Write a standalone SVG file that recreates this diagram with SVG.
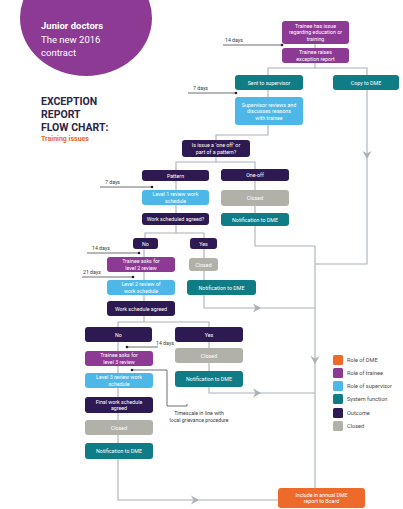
<svg xmlns="http://www.w3.org/2000/svg" width="403" height="509" viewBox="0 0 403 509">
<style>
.bx{stroke:none}
.pu{fill:#8C3A94}.dk{fill:#2D1A52}.te{fill:#0F7C86}.lb{fill:#4DB8E8}.gr{fill:#B1B0A9}.or{fill:#EE6A2B}
.t{font-family:Roboto,'Liberation Sans',sans-serif;font-size:5.3px;fill:#fff;text-anchor:middle}
.c{fill:none;stroke:#A9B1B7;stroke-width:1.1}
.tl{fill:none;stroke:#4a4a4a;stroke-width:0.8}
.lbl{font-family:Roboto,'Liberation Sans',sans-serif;font-size:5.2px;fill:#3a3a3a}
.lg{font-family:Roboto,'Liberation Sans',sans-serif;font-size:5.6px;fill:#4a4a4a}
.ar{fill:#A9B1B7}
</style>
<defs>
<path id="arr" d="M4,0 L-4,-4.5 L-1.5,0 L-4,4.5 Z"/>
</defs>
<rect width="403" height="509" fill="#fff"/>
<ellipse cx="86" cy="18" rx="66" ry="58" fill="#8C3A94"/>
<g font-family="Roboto,'Liberation Sans',sans-serif" font-size="9.5" fill="#fff">
<text x="41" y="29" font-weight="bold">Junior doctors</text>
<text x="41" y="43">The new 2016</text>
<text x="41" y="56">contract</text>
</g>
<g font-family="Roboto,'Liberation Sans',sans-serif" font-size="10.5" font-weight="bold" fill="#2B2546">
<text x="41" y="105">EXCEPTION</text>
<text x="41" y="118">REPORT</text>
<text x="41" y="131">FLOW CHART:</text>
</g>
<text x="41" y="141" font-family="Roboto,'Liberation Sans',sans-serif" font-size="7" font-weight="bold" fill="#E8672A">Training issues</text>

<g id="connectors">
<path class="c" d="M315,43V48"/>
<path class="c" d="M315,63V68M268,75V68H367V75"/>
<path class="c" d="M268,90V97"/>
<path class="c" d="M367,90V264H315"/>
<path class="c" d="M268,125V135H216V140"/>
<path class="c" d="M216,157V162M176,170V162H255V169"/>
<path class="c" d="M176,181V213"/>
<path class="c" d="M255,181V213"/>
<path class="c" d="M255,226V246H315V488"/>
<path class="c" d="M176,225V233M145,238V233H204V238"/>
<path class="c" d="M144,249V316"/>
<path class="c" d="M204,249V308H315"/>
<path class="c" d="M144,316V322M118,327V322H209V327"/>
<path class="c" d="M118,342V500H278"/>
<path class="c" d="M209,342V393H315"/>
<use href="#arr" class="ar" transform="translate(367,155) rotate(90)"/>
<use href="#arr" class="ar" transform="translate(315,360) rotate(90)"/>
<use href="#arr" class="ar" transform="translate(257,308)"/>
<use href="#arr" class="ar" transform="translate(257,393)"/>
<use href="#arr" class="ar" transform="translate(195,500)"/>
</g>

<g id="timings">
<path class="tl" d="M223,45H282"/><circle cx="282" cy="45" r="1.3" fill="#222"/>
<text class="lbl" x="225" y="42">14 days</text>
<path class="tl" d="M188,93H236"/><circle cx="236" cy="93" r="1.3" fill="#222"/>
<text class="lbl" x="193" y="90">7 days</text>
<path class="tl" d="M100,187H152"/><circle cx="152" cy="187" r="1.3" fill="#222"/>
<text class="lbl" x="105" y="184">7 days</text>
<path class="tl" d="M87,253H139"/><circle cx="139" cy="253" r="1.3" fill="#222"/>
<text class="lbl" x="92" y="250">14 days</text>
<path class="tl" d="M82,277H133"/><circle cx="133" cy="277" r="1.3" fill="#222"/>
<text class="lbl" x="83" y="274">21 days</text>
<path class="tl" d="M127,347H158"/><circle cx="127" cy="347" r="1.3" fill="#222"/>
<text class="lbl" x="156" y="345">14 days</text>
<path class="tl" d="M132,370H167V406H187V404"/><circle cx="132" cy="370" r="1.3" fill="#222"/>
<text class="lbl" x="199" y="415" text-anchor="middle">Timescale in line with</text>
<text class="lbl" x="199" y="422" text-anchor="middle">local grievance procedure</text>
</g>

<g id="n1"><rect class="bx pu" x="282" y="21" width="67" height="23" rx="3"/><text class="t" x="315.5" y="27.8">Trainee has issue</text><text class="t" x="315.5" y="34.3">regarding education or</text><text class="t" x="315.5" y="40.8">training</text></g>
<g id="n2"><rect class="bx pu" x="282" y="48" width="67" height="15" rx="3"/><text class="t" x="315.5" y="54.3">Trainee raises</text><text class="t" x="315.5" y="60.8">exception report</text></g>
<g id="n3"><rect class="bx te" x="235" y="75" width="68" height="15" rx="3"/><text class="t" x="269" y="84.5">Sent to supervisor</text></g>
<g id="n4"><rect class="bx te" x="333" y="75" width="66" height="15" rx="3"/><text class="t" x="366" y="84.5">Copy to DME</text></g>
<g id="n5"><rect class="bx lb" x="235" y="97" width="68" height="28" rx="3"/><text class="t" x="269" y="106.5">Supervisor reviews and</text><text class="t" x="269" y="113">discusses reasons</text><text class="t" x="269" y="119.5">with trainee</text></g>
<g id="n6"><rect class="bx dk" x="182" y="140" width="68" height="17" rx="3"/><text class="t" x="216" y="147.3">Is issue a ‘one off’ or</text><text class="t" x="216" y="153.8">part of a pattern?</text></g>
<g id="n7"><rect class="bx dk" x="142" y="170" width="67" height="11" rx="3"/><text class="t" x="175.5" y="177.5">Pattern</text></g>
<g id="n8"><rect class="bx dk" x="221" y="169" width="68" height="12" rx="3"/><text class="t" x="255" y="177">One-off</text></g>
<g id="n9"><rect class="bx gr" x="221" y="190" width="68" height="16" rx="3"/><text class="t" x="255" y="200">Closed</text></g>
<g id="n10"><rect class="bx te" x="221" y="213" width="68" height="13" rx="3"/><text class="t" x="255" y="221.5">Notification to DME</text></g>
<g id="n11"><rect class="bx lb" x="142" y="190" width="67" height="15" rx="3"/><text class="t" x="175.5" y="196.3">Level 1 review work</text><text class="t" x="175.5" y="202.8">schedule</text></g>
<g id="n12"><rect class="bx dk" x="142" y="213" width="67" height="12" rx="3"/><text class="t" x="175.5" y="221">Work scheduled agreed?</text></g>
<g id="n13"><rect class="bx dk" x="133" y="238" width="25" height="11" rx="3"/><text class="t" x="145.5" y="245.5">No</text></g>
<g id="n14"><rect class="bx dk" x="190" y="238" width="27" height="11" rx="3"/><text class="t" x="203.5" y="245.5">Yes</text></g>
<g id="n15"><rect class="bx pu" x="107" y="257" width="68" height="15" rx="3"/><text class="t" x="141" y="263.3">Trainee asks for</text><text class="t" x="141" y="269.8">level 2 review</text></g>
<g id="n16"><rect class="bx gr" x="189" y="258" width="29" height="13" rx="3"/><text class="t" x="203.5" y="266.5">Closed</text></g>
<g id="n17"><rect class="bx lb" x="107" y="280" width="68" height="15" rx="3"/><text class="t" x="141" y="286.3">Level 2 review of</text><text class="t" x="141" y="292.8">work schedule</text></g>
<g id="n18"><rect class="bx te" x="187" y="280" width="69" height="15" rx="3"/><text class="t" x="221.5" y="289.5">Notification to DME</text></g>
<g id="n19"><rect class="bx dk" x="107" y="301" width="68" height="15" rx="3"/><text class="t" x="141" y="310.5">Work schedule agreed</text></g>
<g id="n20"><rect class="bx dk" x="85" y="327" width="67" height="15" rx="3"/><text class="t" x="118.5" y="336.5">No</text></g>
<g id="n21"><rect class="bx dk" x="175" y="327" width="68" height="15" rx="3"/><text class="t" x="209" y="336.5">Yes</text></g>
<g id="n22"><rect class="bx pu" x="85" y="351" width="68" height="15" rx="3"/><text class="t" x="119" y="357.3">Trainee asks for</text><text class="t" x="119" y="363.8">level 3 review</text></g>
<g id="n23"><rect class="bx gr" x="175" y="348" width="68" height="15" rx="3"/><text class="t" x="209" y="357.5">Closed</text></g>
<g id="n24"><rect class="bx lb" x="85" y="373" width="68" height="15" rx="3"/><text class="t" x="119" y="379.3">Level 3 review work</text><text class="t" x="119" y="385.8">schedule</text></g>
<g id="n25"><rect class="bx te" x="175" y="371" width="68" height="16" rx="3"/><text class="t" x="209" y="381">Notification to DME</text></g>
<g id="n26"><rect class="bx dk" x="85" y="397" width="68" height="16" rx="3"/><text class="t" x="119" y="403.8">Final work schedule</text><text class="t" x="119" y="410.3">agreed</text></g>
<g id="n27"><rect class="bx gr" x="85" y="420" width="68" height="15" rx="3"/><text class="t" x="119" y="429.5">Closed</text></g>
<g id="n28"><rect class="bx te" x="85" y="443" width="68" height="16" rx="3"/><text class="t" x="119" y="453">Notification to DME</text></g>
<g id="n29"><rect class="bx or" x="278" y="488" width="87" height="20" rx="3"/><text class="t" x="321.5" y="496.8">Include in annual DME</text><text class="t" x="321.5" y="503.3">report to Board</text></g>

<g id="legend">
<rect class="or" x="333" y="355" width="10" height="10" rx="1.5"/><text class="lg" x="347" y="362">Role of DME</text>
<rect class="pu" x="333" y="368" width="10" height="10" rx="1.5"/><text class="lg" x="347" y="375">Role of trainee</text>
<rect class="lb" x="333" y="381" width="10" height="10" rx="1.5"/><text class="lg" x="347" y="388">Role of supervisor</text>
<rect class="te" x="333" y="394" width="10" height="10" rx="1.5"/><text class="lg" x="347" y="401">System function</text>
<rect class="dk" x="333" y="408" width="10" height="10" rx="1.5"/><text class="lg" x="347" y="415">Outcome</text>
<rect class="gr" x="333" y="421" width="10" height="10" rx="1.5"/><text class="lg" x="347" y="428">Closed</text>
</g>
</svg>
